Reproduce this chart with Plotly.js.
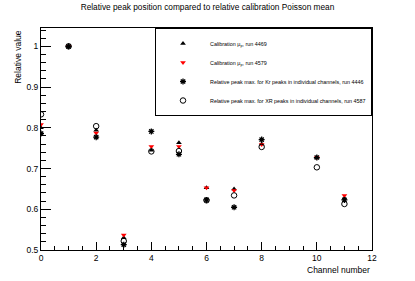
<!DOCTYPE html>
<html><head><meta charset="utf-8">
<script src="https://cdn.plot.ly/plotly-3.0.1.min.js"></script>
<style>html,body{margin:0;padding:0;background:#fff}#c{width:415px;height:281px}</style>
</head><body><div id="c"></div>
<script>
const channels = [0,1,2,3,4,5,6,7,8,10,11];
const calib4469 = [0.800,1.000,0.794,0.530,0.745,0.763,0.653,0.650,0.760,0.727,0.627];
const calib4579 = [0.808,1.000,0.787,0.537,0.754,0.754,0.653,0.646,0.759,0.727,0.634];
const kr4446   = [0.786,1.000,0.777,0.513,0.791,0.735,0.623,0.605,0.771,0.727,0.623];
const xr4587   = [0.833,1.000,0.804,0.522,0.742,0.743,0.622,0.634,0.753,0.703,0.613];
const names = ["Calibration \u03bc<sub>p</sub>, run 4469","Calibration \u03bc<sub>p</sub>, run 4579",
  "Relative peak max. for Kr peaks in individual channels, run 4446",
  "Relative peak max. for XR peaks in individual channels, run 4587"];
const F = "Liberation Sans, Arial, sans-serif";
const traces = [
 {x:channels,y:calib4469,name:names[0],mode:"markers",type:"scatter",marker:{symbol:"triangle-up",size:5,color:"#000"}},
 {x:channels,y:calib4579,name:names[1],mode:"markers",type:"scatter",marker:{symbol:"triangle-down",size:5,color:"#ff0000"}},
 {x:channels,y:kr4446,name:names[2],mode:"markers",type:"scatter",marker:{symbol:"asterisk-open",size:5,color:"#000",line:{color:"#000",width:1.3}}},
 {x:channels,y:xr4587,name:names[3],mode:"markers",type:"scatter",marker:{symbol:"circle-open",size:5.5,color:"#000",line:{color:"#000",width:1}}}
];
const layout = {
 width:415,height:281,margin:{l:41,r:43,t:28,b:31},
 paper_bgcolor:"#fff",plot_bgcolor:"#fff",
 font:{family:F,size:8,color:"#000"},
 title:{text:"Relative peak position compared to relative calibration Poisson mean",font:{family:F,size:8.3,color:"#000"},x:0.5,xanchor:"center",y:0.975,yanchor:"middle"},
 showlegend:true,
 legend:{x:1,xanchor:"right",y:1,yanchor:"top",bordercolor:"#000",borderwidth:1,bgcolor:"#fff",font:{family:F,size:5.4,color:"#000"},itemwidth:44,tracegroupgap:0},
 xaxis:{range:[0,12],dtick:2,tick0:0,ticks:"inside",ticklen:8,tickcolor:"#000",showgrid:false,zeroline:false,showline:true,linecolor:"#000",linewidth:1,mirror:true,
   tickfont:{family:F,size:8.5},minor:{dtick:0.5,ticklen:4,tickcolor:"#000",ticks:"inside",showgrid:false}},
 yaxis:{range:[0.5,1.045],dtick:0.1,tick0:0.5,ticks:"inside",ticklen:10,tickcolor:"#000",showgrid:false,zeroline:false,showline:true,linecolor:"#000",linewidth:1,mirror:true,
   tickfont:{family:F,size:8.5},minor:{dtick:0.02,ticklen:5,tickcolor:"#000",ticks:"inside",showgrid:false}},
 annotations:[
  {text:"Channel number",xref:"paper",yref:"paper",x:1,y:0,xanchor:"right",yanchor:"top",yshift:-13,showarrow:false,font:{family:F,size:8.5}},
  {text:"Relative value",xref:"paper",yref:"paper",x:-0.07,y:1,xanchor:"center",yanchor:"top",textangle:-90,showarrow:false,font:{family:F,size:8.5}}
 ]
};
Plotly.newPlot("c",traces,layout,{displayModeBar:false,staticPlot:true});
</script></body></html>
